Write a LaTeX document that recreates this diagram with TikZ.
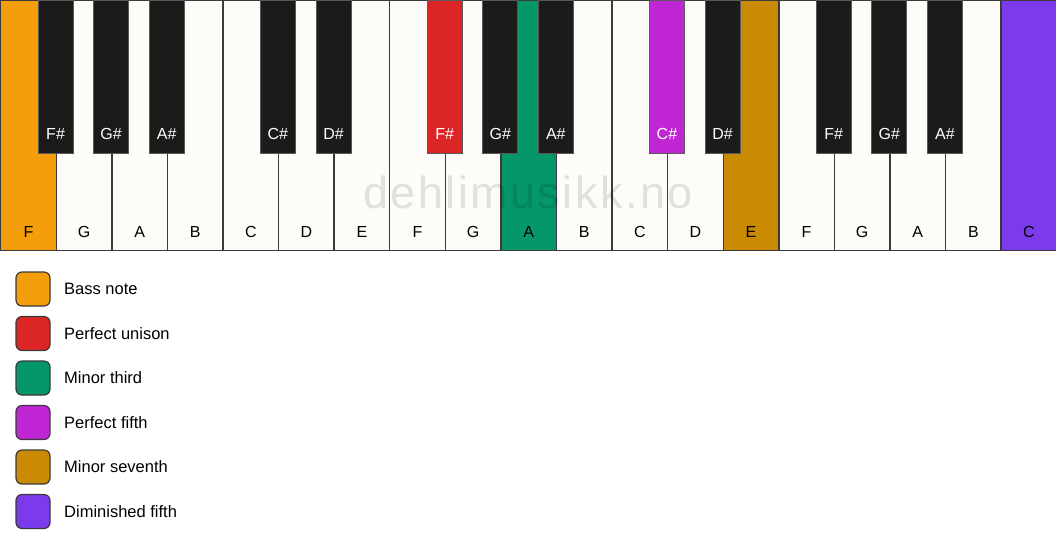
\documentclass[tikz,border=0pt]{standalone}
\usepackage{fontspec}
\setmainfont{Liberation Sans}
\usetikzlibrary{positioning}

\definecolor{ivory}{HTML}{FDFCF8}
\definecolor{ebony}{HTML}{1C1B19}
\definecolor{keyline}{HTML}{3A3A3A}
\definecolor{bass}{HTML}{F59E0B}
\definecolor{unison}{HTML}{DC2626}
\definecolor{minthird}{HTML}{059669}
\definecolor{perffifth}{HTML}{C026D3}
\definecolor{minseventh}{HTML}{CA8A04}
\definecolor{dimfifth}{HTML}{7C3AED}

\begin{document}
\begin{tikzpicture}[x=1pt, y=-1pt,
            inner sep=0pt,
            whitekey/.style = {draw=keyline, line width=1.4pt, minimum width=55.58pt,
                               minimum height=250pt, anchor=north west},
            blackkey/.style = {draw=black!65, line width=0.8pt, minimum width=35pt,
                               minimum height=153pt, anchor=north},
            keylabel/.style = {anchor=base, font=\fontsize{16}{19}\selectfont},
            swatch/.style = {draw=keyline, line width=1.2pt, rounded corners=6pt,
                             minimum size=34pt, outer sep=0pt},
            legendtext/.style = {anchor=west, font=\fontsize{16.5}{19}\selectfont},
            watermark/.style = {text=black, text opacity=0.11,
                                font=\fontsize{45}{50}\selectfont\addfontfeature{LetterSpace=5.5}},
            ]
            \useasboundingbox (0,0) rectangle (1056,550);

            % white keys
            \foreach \n/\c [count=\i from 0] in {F/bass, G/ivory, A/ivory, B/ivory, C/ivory,
                    D/ivory, E/ivory, F/ivory, G/ivory, A/minthird, B/ivory, C/ivory, D/ivory,
                    E/minseventh, F/ivory, G/ivory, A/ivory, B/ivory, C/dimfifth}
            {
                \node[whitekey, fill=\c] (w\i) at (\i*55.58, 0) {};
                \node[keylabel] (wl\i) at ([yshift=14pt]w\i.south) {\n};
            }

            \node[watermark] (mark) at (528, 192) {dehlimusikk.no};

            % black keys, placed on the boundary between two white keys
            \foreach \n/\b/\c in {F\#/1/ebony, G\#/2/ebony, A\#/3/ebony, C\#/5/ebony,
                    D\#/6/ebony, F\#/8/unison, G\#/9/ebony, A\#/10/ebony, C\#/12/perffifth,
                    D\#/13/ebony, F\#/15/ebony, G\#/16/ebony, A\#/17/ebony}
            {
                \node[blackkey, fill=\c] (b\b) at (\b*55.58, 0) {};
                \node[keylabel, text=white] (bl\b) at ([yshift=14pt]b\b.south) {\n};
            }

            % legend
            \foreach \t/\c [count=\k from 0] in {Bass note/bass, Perfect unison/unison,
                    Minor third/minthird, Perfect fifth/perffifth, Minor seventh/minseventh,
                    Diminished fifth/dimfifth}
            {
                \node[swatch, fill=\c] (sw\k) at (33, 289+\k*44.5) {};
                \node[legendtext, right=14pt of sw\k] (lt\k) {\t};
            }
\end{tikzpicture}
\end{document}
